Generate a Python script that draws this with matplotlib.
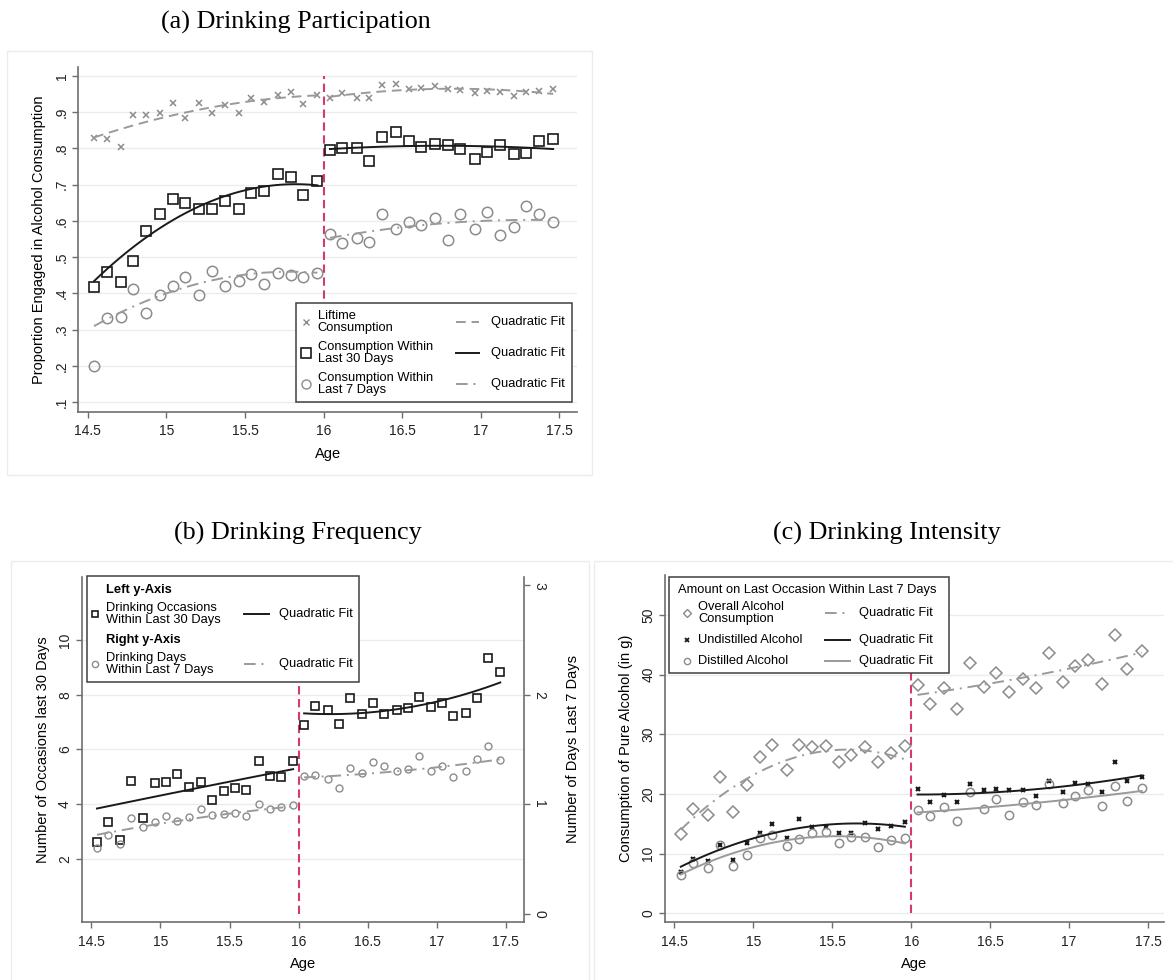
import matplotlib
matplotlib.use("Agg")
import matplotlib.pyplot as plt
import numpy as np
from matplotlib.lines import Line2D
from matplotlib.patches import Rectangle

plt.rcParams["font.family"] = ["Liberation Sans", "DejaVu Sans"]

# binned ages (monthly bins around the 16th birthday)
ages = [14.54, 14.62, 14.71, 14.79, 14.87, 14.96, 15.04, 15.12, 15.21, 15.29, 15.37, 15.46,
        15.54, 15.62, 15.71, 15.79, 15.87, 15.96, 16.04, 16.12, 16.21, 16.29, 16.37, 16.46,
        16.54, 16.62, 16.71, 16.79, 16.87, 16.96, 17.04, 17.12, 17.21, 17.29, 17.37, 17.46]
cutoff_age = 16

# (a) participation
lifetime = [0.829, 0.825, 0.805, 0.893, 0.893, 0.897, 0.925, 0.883, 0.925, 0.896, 0.920, 0.898,
            0.938, 0.927, 0.947, 0.955, 0.922, 0.948, 0.939, 0.952, 0.938, 0.940, 0.975, 0.977,
            0.963, 0.966, 0.971, 0.963, 0.960, 0.952, 0.957, 0.956, 0.944, 0.956, 0.957, 0.964]
last30 = [0.417, 0.458, 0.431, 0.490, 0.571, 0.620, 0.660, 0.649, 0.632, 0.633, 0.654, 0.632,
          0.678, 0.681, 0.729, 0.722, 0.671, 0.710, 0.794, 0.800, 0.800, 0.764, 0.830, 0.845,
          0.821, 0.803, 0.812, 0.808, 0.798, 0.770, 0.791, 0.808, 0.784, 0.787, 0.821, 0.825]
last7 = [0.199, 0.333, 0.336, 0.411, 0.347, 0.395, 0.421, 0.445, 0.396, 0.461, 0.421, 0.434,
         0.453, 0.426, 0.457, 0.450, 0.445, 0.457, 0.565, 0.538, 0.553, 0.541, 0.620, 0.578,
         0.597, 0.589, 0.609, 0.546, 0.618, 0.578, 0.625, 0.562, 0.583, 0.642, 0.618, 0.596]

# (b) frequency
occasions30 = [2.63, 3.36, 2.69, 4.86, 3.50, 4.79, 4.81, 5.09, 4.64, 4.82, 4.14, 4.47,
               4.58, 4.52, 5.56, 5.04, 5.01, 5.57, 6.89, 7.60, 7.46, 6.93, 7.88, 7.28,
               7.71, 7.28, 7.46, 7.53, 7.93, 7.55, 7.69, 7.24, 7.33, 7.89, 9.33, 8.82]
days7 = [0.600, 0.722, 0.634, 0.877, 0.792, 0.835, 0.895, 0.850, 0.880, 0.953, 0.898, 0.908,
         0.920, 0.889, 1.002, 0.956, 0.975, 0.990, 1.255, 1.267, 1.227, 1.151, 1.334, 1.285,
         1.383, 1.346, 1.307, 1.322, 1.438, 1.300, 1.352, 1.249, 1.304, 1.413, 1.529, 1.407]

# (c) intensity
overall = [13.3, 17.5, 16.4, 22.9, 16.9, 21.5, 26.2, 28.2, 24.0, 28.2, 27.9, 28.0,
           25.4, 26.5, 27.8, 25.3, 26.9, 28.0, 38.3, 35.0, 37.7, 34.2, 42.0, 37.9,
           40.2, 37.1, 39.3, 37.8, 43.7, 38.8, 41.5, 42.4, 38.4, 46.7, 40.9, 44.0]
undistilled = [6.9, 9.1, 8.8, 11.5, 9.0, 11.8, 13.5, 15.0, 12.6, 15.8, 14.4, 14.4,
               13.5, 13.5, 15.1, 14.2, 14.7, 15.3, 20.9, 18.7, 19.8, 18.7, 21.6, 20.6,
               20.9, 20.6, 20.7, 19.6, 22.1, 20.4, 21.8, 21.7, 20.4, 25.4, 22.1, 22.8]
distilled = [6.4, 8.4, 7.6, 11.4, 7.9, 9.7, 12.6, 13.1, 11.3, 12.4, 13.5, 13.6,
             11.7, 12.8, 12.7, 11.1, 12.2, 12.6, 17.3, 16.3, 17.8, 15.4, 20.4, 17.4,
             19.1, 16.5, 18.6, 18.2, 21.7, 18.4, 19.7, 20.7, 17.9, 21.3, 18.8, 21.0]

# quadratic fit curves, read at start / middle / end of each side of the cutoff
fit_ages_left = [14.54, 15.25, 15.96]
fit_ages_right = [16.04, 16.75, 17.46]
fit_lifetime = ([0.830, 0.910, 0.946], [0.942, 0.964, 0.950])
fit_last30 = ([0.434, 0.648, 0.698], [0.798, 0.807, 0.798])
fit_last7 = ([0.310, 0.432, 0.457], [0.553, 0.593, 0.602])
fit_occasions30 = ([3.84, 4.57, 5.28], [7.32, 7.50, 8.45])
fit_days7 = ([0.72, 0.87, 0.98], [1.245, 1.305, 1.41])
fit_overall = ([14.0, 26.0, 25.8], [36.6, 39.7, 43.7])
fit_undistilled = ([7.8, 14.1, 14.5], [19.9, 20.7, 23.1])
fit_distilled = ([6.5, 12.4, 11.7], [16.9, 18.4, 20.5])

W, H = 1173, 980
BLACK = "#1a1a1a"
GRAY = "#8c8c8c"
FITGRAY = "#9a9a9a"
RED = "#d83a68"
GRID = "#e6eef0"
SPINE = "#6e6e6e"

fig = plt.figure(figsize=(W / 100, H / 100), dpi=100)


def fig_box(l, t, r, b, **kw):
    fig.add_artist(Rectangle((l / W, 1 - b / H), (r - l) / W, (b - t) / H,
                             transform=fig.transFigure, **kw))


def fig_line(x0, x1, y, **kw):
    fig.add_artist(Line2D([x0 / W, x1 / W], [1 - y / H, 1 - y / H],
                          transform=fig.transFigure, zorder=6, **kw))


def fig_marker(x, y, **kw):
    fig.add_artist(Line2D([x / W], [1 - y / H], linestyle="none",
                          transform=fig.transFigure, zorder=6, **kw))


def fig_text(x, y, s, **kw):
    fig.text(x / W, 1 - y / H, s, ha="left", va="center", fontsize=9.3,
             linespacing=1.0, zorder=6, **kw)


def draw_fit(ax, fit, **kw):
    for xs, ys in zip([fit_ages_left, fit_ages_right], fit):
        coef = np.polyfit(xs, ys, 2)
        grid = np.linspace(xs[0], xs[-1], 100)
        ax.plot(grid, np.polyval(coef, grid), **kw)


def style_axes(ax, yticks, ylabels, xlim, ylim):
    ax.set_xlim(*xlim)
    ax.set_ylim(*ylim)
    ax.set_xticks([14.5, 15, 15.5, 16, 16.5, 17, 17.5])
    ax.set_xticklabels(["14.5", "15", "15.5", "16", "16.5", "17", "17.5"])
    ax.set_yticks(yticks)
    ax.set_yticklabels(ylabels)
    for s in ["top", "right"]:
        ax.spines[s].set_visible(False)
    for s in ["left", "bottom"]:
        ax.spines[s].set_color(SPINE)
        ax.spines[s].set_linewidth(1.2)
    ax.tick_params(axis="both", colors=SPINE, labelcolor="#222222", labelsize=10,
                   length=4, width=1)
    ax.tick_params(axis="x", pad=5)
    ax.tick_params(axis="y", labelrotation=90, pad=3)
    for lab in ax.get_yticklabels():
        lab.set_va("center")
    for y in yticks:
        ax.axhline(y, color=GRID, lw=1, zorder=0)
    ax.set_xlabel("Age", fontsize=10.5, labelpad=6)


# panel frames
fig_box(7, 51, 592, 475, facecolor="none", edgecolor="#ececec", lw=1, zorder=-1)
fig_box(11, 561, 589, 990, facecolor="none", edgecolor="#ececec", lw=1, zorder=-1)
fig_box(594, 561, 1180, 990, facecolor="none", edgecolor="#ececec", lw=1, zorder=-1)

title_font = dict(family=["Liberation Serif", "DejaVu Serif"], fontsize=18.8)
fig.text(296 / W, 1 - 22 / H, "(a) Drinking Participation", ha="center", va="center", **title_font)
fig.text(298 / W, 1 - 533 / H, "(b) Drinking Frequency", ha="center", va="center", **title_font)
fig.text(887 / W, 1 - 533 / H, "(c) Drinking Intensity", ha="center", va="center", **title_font)

# ---------------- (a) ----------------
ax_a = fig.add_axes([0.0668, 0.5799, 0.4249, 0.3513])
style_axes(ax_a, [0.1 * k for k in range(1, 11)],
           [".1", ".2", ".3", ".4", ".5", ".6", ".7", ".8", ".9", "1"],
           (14.44, 17.61), (0.074, 1.023))
ax_a.set_ylabel("Proportion Engaged in Alcohol Consumption", fontsize=10.5, labelpad=6)
ax_a.vlines(cutoff_age, 0.1, 1.0, color=RED, lw=1.5, linestyles=(0, (4, 2.2)), zorder=2)
ax_a.plot(ages, lifetime, "x", color=GRAY, ms=5, mew=1.1, zorder=3)
ax_a.plot(ages, last30, "s", mfc="none", mec=BLACK, ms=7.5, mew=1.2, zorder=3)
ax_a.plot(ages, last7, "o", mfc="none", mec=GRAY, ms=7.5, mew=1.1, zorder=3)
draw_fit(ax_a, fit_lifetime, color=FITGRAY, lw=1.4, ls=(0, (5, 3)), zorder=4)
draw_fit(ax_a, fit_last30, color=BLACK, lw=1.4, zorder=4)
draw_fit(ax_a, fit_last7, color=FITGRAY, lw=1.4, ls=(0, (6, 3, 1, 3)), zorder=4)

fig_box(296, 303, 572, 402, facecolor="white", edgecolor="#404040", lw=1.1, zorder=5)
for yy, mk, label, ls, col in [
        (321.7, dict(marker="x", color=GRAY, ms=4, mew=1), "Liftime\nConsumption", (0, (5, 3)), FITGRAY),
        (353.3, dict(marker="s", mfc="none", mec=BLACK, ms=6.5, mew=1.2),
         "Consumption Within\nLast 30 Days", "-", BLACK),
        (384.3, dict(marker="o", mfc="none", mec=GRAY, ms=6.5, mew=1),
         "Consumption Within\nLast 7 Days", (0, (6, 3, 1, 3)), FITGRAY)]:
    fig_marker(306, yy, **mk)
    fig_text(317.7, yy, label)
    fig_line(455.7, 479, yy, color=col, lw=1.4, ls=ls)
    fig_text(490.7, yy, "Quadratic Fit")

# ---------------- (b) ----------------
ax_b = fig.add_axes([0.0697, 0.0589, 0.3768, 0.3527])
style_axes(ax_b, [2, 4, 6, 8, 10], ["2", "4", "6", "8", "10"], (14.43, 17.63), (-0.32, 12.32))
ax_b.set_ylabel("Number of Occasions last 30 Days", fontsize=10.5, labelpad=6)
ax_b2 = ax_b.twinx()
ax_b2.set_ylim(-0.08, 3.08)
ax_b2.set_yticks([0, 1, 2, 3])
ax_b2.set_yticklabels(["0", "1", "2", "3"])
for s in ["top", "left", "bottom"]:
    ax_b2.spines[s].set_visible(False)
ax_b2.spines["right"].set_color(SPINE)
ax_b2.spines["right"].set_linewidth(1.2)
ax_b2.tick_params(axis="y", colors=SPINE, labelcolor="#222222", labelsize=10,
                  length=4, width=1, pad=2, labelrotation=-90)
for lab in ax_b2.get_yticklabels():
    lab.set_va("center")
ax_b2.set_ylabel("Number of Days Last 7 Days", fontsize=10.5, rotation=90)
ax_b2.yaxis.set_label_coords(1.095, 0.5)

ax_b.vlines(cutoff_age, 0, 12, color=RED, lw=1.5, linestyles=(0, (4, 2.2)), zorder=2)
ax_b.plot(ages, occasions30, "s", mfc="none", mec=BLACK, ms=5.5, mew=1.2, zorder=3)
draw_fit(ax_b, fit_occasions30, color=BLACK, lw=1.4, zorder=4)
ax_b2.plot(ages, days7, "o", mfc="none", mec=GRAY, ms=5, mew=1, zorder=3)
draw_fit(ax_b2, fit_days7, color=FITGRAY, lw=1.4, ls=(0, (6, 3, 1, 3)), zorder=4)

fig_box(86.7, 576, 359, 682.3, facecolor="white", edgecolor="#404040", lw=1.1, zorder=5)
fig_text(106, 590, "Left y-Axis", fontweight="bold")
fig_marker(95, 614.3, marker="s", mfc="none", mec=BLACK, ms=4.5, mew=1.2)
fig_text(106, 614.3, "Drinking Occasions\nWithin Last 30 Days")
fig_line(244, 269.3, 614.3, color=BLACK, lw=1.4)
fig_text(279, 614.3, "Quadratic Fit")
fig_text(106, 640, "Right y-Axis", fontweight="bold")
fig_marker(95, 664.3, marker="o", mfc="none", mec=GRAY, ms=4.5, mew=1)
fig_text(106, 664.3, "Drinking Days\nWithin Last 7 Days")
fig_line(244, 269.3, 664.3, color=FITGRAY, lw=1.4, ls=(0, (6, 3, 1, 3)))
fig_text(279, 664.3, "Quadratic Fit")

# ---------------- (c) ----------------
ax_c = fig.add_axes([0.5669, 0.0589, 0.4252, 0.3544])
style_axes(ax_c, [0, 10, 20, 30, 40, 50], ["0", "10", "20", "30", "40", "50"],
           (14.44, 17.6), (-1.51, 56.7))
ax_c.set_ylabel("Consumption of Pure Alcohol (in g)", fontsize=10.5, labelpad=6)
ax_c.vlines(cutoff_age, 0, 55, color=RED, lw=1.5, linestyles=(0, (4, 2.2)), zorder=2)
ax_c.plot(ages, overall, "D", mfc="none", mec=GRAY, ms=6.5, mew=1.1, zorder=3)
ax_c.plot(ages, undistilled, "x", color=BLACK, ms=3.5, mew=1.5, zorder=3)
ax_c.plot(ages, distilled, "o", mfc="none", mec=GRAY, ms=6, mew=1.1, zorder=3)
draw_fit(ax_c, fit_overall, color=FITGRAY, lw=1.4, ls=(0, (6, 3, 1, 3)), zorder=4)
draw_fit(ax_c, fit_undistilled, color=BLACK, lw=1.4, zorder=4)
draw_fit(ax_c, fit_distilled, color=FITGRAY, lw=1.4, zorder=4)

fig_box(669.3, 576.7, 949.3, 673.3, facecolor="white", edgecolor="#404040", lw=1.1, zorder=5)
fig_text(678.3, 590, "Amount on Last Occasion Within Last 7 Days")
for yy, mk, label, ls, col in [
        (613.3, dict(marker="D", mfc="none", mec=GRAY, ms=4.5, mew=1), "Overall Alcohol\nConsumption",
         (0, (6, 3, 1, 3)), FITGRAY),
        (640, dict(marker="x", color=BLACK, ms=3, mew=1.3), "Undistilled Alcohol", "-", BLACK),
        (660.7, dict(marker="o", mfc="none", mec=GRAY, ms=4.5, mew=1), "Distilled Alcohol", "-", FITGRAY)]:
    fig_marker(687.3, yy, **mk)
    fig_text(698.3, yy, label)
    fig_line(825, 850, yy, color=col, lw=1.4, ls=ls)
    fig_text(859.3, yy, "Quadratic Fit")

fig.savefig("out.png", dpi=100, facecolor="white")
